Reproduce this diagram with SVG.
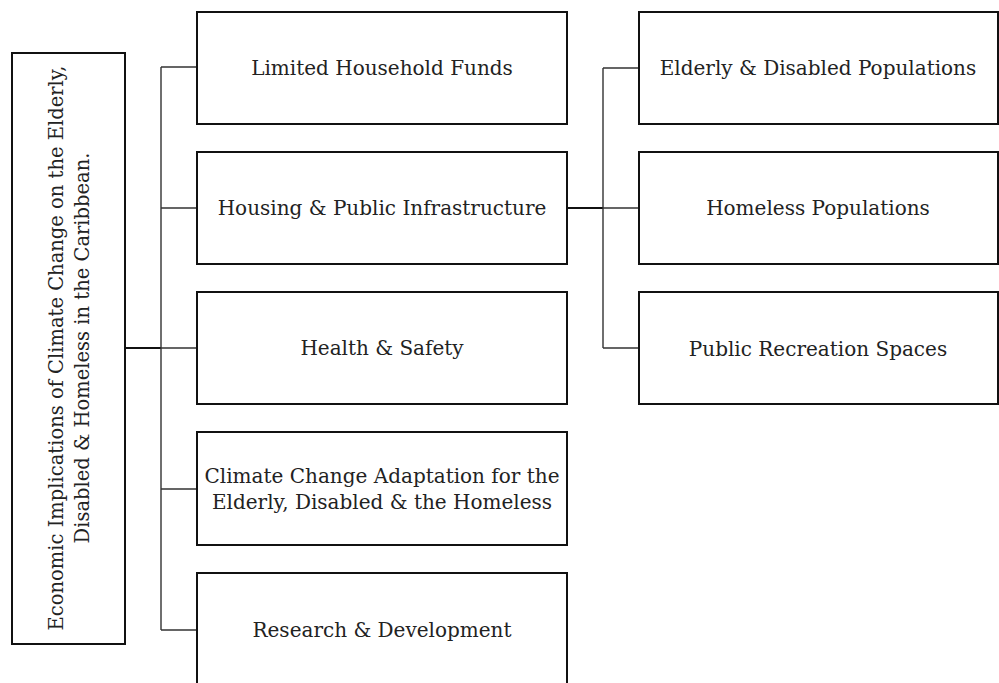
<svg xmlns="http://www.w3.org/2000/svg" width="999" height="683" viewBox="0 0 999 683">
<style>
.box{fill:#fff;stroke:#111;stroke-width:2}
.t{font-family:"DejaVu Serif","Liberation Serif",serif;font-size:20px;fill:#222;text-anchor:middle}
.l{font-size:19.5px}
.c{fill:none;stroke:#333;stroke-width:1.4}
.cb{fill:none;stroke:#111;stroke-width:2}
</style>
<rect width="999" height="683" fill="#fff"/>
<g id="connectors">
<path class="cb" d="M125,348 H161"/>
<path class="c" d="M161,67 V630 M161,67 H197 M161,208 H197 M161,348 H197 M161,489 H197 M161,630 H197"/>
<path class="cb" d="M567,208 H603"/>
<path class="c" d="M603,68 V348 M603,68 H639 M603,208 H639 M603,348 H639"/>
</g>
<g id="root">
<rect class="box" x="12" y="53" width="113" height="591"/>
<text class="t l" transform="translate(63,348) rotate(-90)">Economic Implications of Climate Change on the Elderly,</text>
<text class="t l" transform="translate(89,348) rotate(-90)">Disabled &amp; Homeless in the Caribbean.</text>
</g>
<g id="funds">
<rect class="box" x="197" y="12" width="370" height="112"/>
<text class="t" x="382" y="75">Limited Household Funds</text>
</g>
<g id="housing">
<rect class="box" x="197" y="152" width="370" height="112"/>
<text class="t" x="382" y="215">Housing &amp; Public Infrastructure</text>
</g>
<g id="health">
<rect class="box" x="197" y="292" width="370" height="112"/>
<text class="t" x="382" y="355">Health &amp; Safety</text>
</g>
<g id="adaptation">
<rect class="box" x="197" y="432" width="370" height="113"/>
<text class="t" x="382" y="483">Climate Change Adaptation for the</text>
<text class="t" x="382" y="509">Elderly, Disabled &amp; the Homeless</text>
</g>
<g id="research">
<rect class="box" x="197" y="573" width="370" height="113"/>
<text class="t" x="382" y="637">Research &amp; Development</text>
</g>
<g id="elderly">
<rect class="box" x="639" y="12" width="359" height="112"/>
<text class="t" x="818" y="75">Elderly &amp; Disabled Populations</text>
</g>
<g id="homeless">
<rect class="box" x="639" y="152" width="359" height="112"/>
<text class="t" x="818" y="215">Homeless Populations</text>
</g>
<g id="recreation">
<rect class="box" x="639" y="292" width="359" height="112"/>
<text class="t" x="818" y="356">Public Recreation Spaces</text>
</g>
</svg>
